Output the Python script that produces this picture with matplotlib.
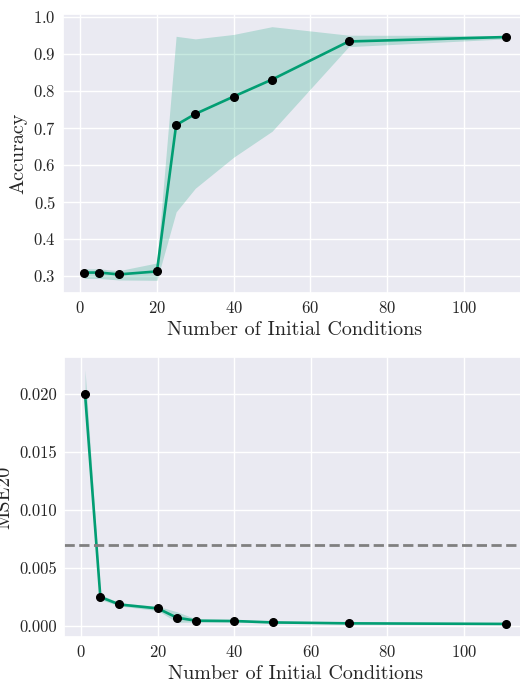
import matplotlib
matplotlib.use("Agg")
import matplotlib.pyplot as plt
import seaborn as sns
import numpy as np

sns.set_theme(style="darkgrid")
plt.rcParams['font.family'] = ['cmr10', 'DejaVu Serif']
plt.rcParams['mathtext.fontset'] = 'cm'
plt.rcParams['axes.formatter.use_mathtext'] = True

n_ic = [1, 5, 10, 20, 25, 30, 40, 50, 70, 111]

acc_mean = [0.308, 0.308, 0.303, 0.311, 0.707, 0.737, 0.784, 0.830, 0.933, 0.945]
acc_low = [0.292, 0.292, 0.288, 0.287, 0.472, 0.536, 0.620, 0.690, 0.919, 0.940]
acc_high = [0.318, 0.318, 0.313, 0.334, 0.947, 0.940, 0.952, 0.973, 0.950, 0.949]

mse_mean = [0.0200, 0.00247, 0.00183, 0.00149, 0.00069, 0.00043, 0.00040, 0.00028, 0.00020, 0.00015]
mse_low = [0.0190, 0.00225, 0.00170, 0.00130, 0.00030, 0.00030, 0.00030, 0.00022, 0.00016, 0.00012]
mse_high = [0.0221, 0.00270, 0.00196, 0.00168, 0.00120, 0.00058, 0.00052, 0.00034, 0.00024, 0.00018]

threshold = 0.007

green = "#029e73"
W, H = 520, 684
fig = plt.figure(figsize=(W / 100, H / 100), dpi=100)

ax1 = fig.add_axes([63 / W, 1 - 293 / H, (527 - 63) / W, (293 - 14) / H])
ax2 = fig.add_axes([64 / W, 1 - 637 / H, (527 - 64) / W, (637 - 357) / H])

ax1.fill_between(n_ic, acc_low, acc_high, color=green, alpha=0.22, linewidth=0)
ax1.plot(n_ic, acc_mean, color=green, lw=1.9, marker='o', mfc='black', mec='black', ms=5.5)
ax1.set_ylabel("Accuracy", fontsize=14.5)
ax1.set_xlabel("Number of Initial Conditions", fontsize=14.5, labelpad=4)

ax2.fill_between(n_ic, mse_low, mse_high, color=green, alpha=0.22, linewidth=0)
ax2.plot(n_ic, mse_mean, color=green, lw=1.9, marker='o', mfc='black', mec='black', ms=5.5)
ax2.axhline(threshold, color='gray', ls='--', lw=2)
ax2.set_ylabel("MSE20", fontsize=14.5)
ax2.set_xlabel("Number of Initial Conditions", fontsize=14.5, labelpad=4)
ax2.set_yticks([0.0, 0.005, 0.010, 0.015, 0.020])
ax2.set_yticklabels(["0.000", "0.005", "0.010", "0.015", "0.020"])

for ax in (ax1, ax2):
    ax.tick_params(axis='both', labelsize=12, length=0)
    ax.tick_params(axis='x', pad=5)
    ax.tick_params(axis='y', pad=5)
    ax.set_xticks([0, 20, 40, 60, 80, 100])

fig.savefig("out.png", dpi=100)
